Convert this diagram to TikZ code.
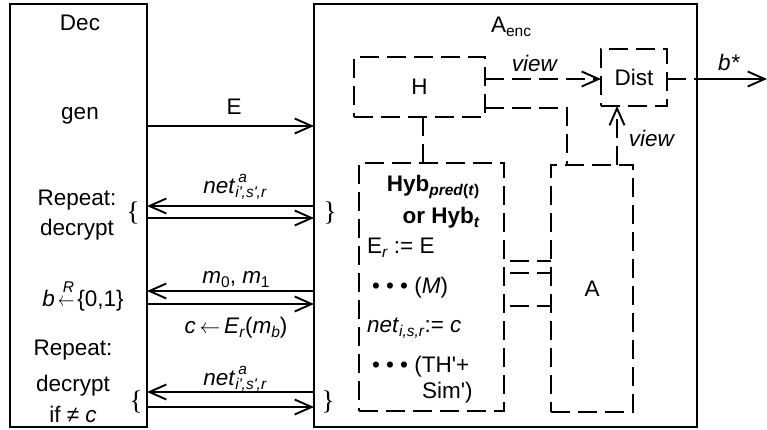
\documentclass[tikz,border=0pt]{standalone}
\usepackage{fontspec}
\setmainfont{Liberation Sans}
\newfontfamily\serf{Liberation Serif}
\usetikzlibrary{arrows.meta}
\newcommand\sub[1]{\raisebox{-4pt}{\fontsize{15.5}{16}\selectfont #1}}
\newcommand\sups[1]{\raisebox{11pt}{\fontsize{15.5}{16}\selectfont #1}}
\newcommand\qa{\textquotesingle}
\begin{document}
\begin{tikzpicture}[x=1pt,y=-1pt,
  every node/.style={font=\fontsize{22.5}{26}\selectfont, inner sep=0pt, outer sep=0pt},
  solidbox/.style={draw, line width=1.8pt},
  dashbox/.style={draw, line width=1.8pt, dash pattern=on 19pt off 8pt},
  ln/.style={line width=1.8pt},
  dln/.style={line width=1.8pt, dash pattern=on 19pt off 8pt},
  arr/.style={-{Straight Barb[length=17pt,width=15pt,line width=1.9pt]}},
  lbl/.style={anchor=base},
  lblw/.style={anchor=base west},
  brc/.style={font=\fontsize{27}{30}\selectfont\serf},
]
\useasboundingbox (0,0) rectangle (767,430);
% main boxes
\node[solidbox, minimum width=137pt, minimum height=423pt] (dec) at (78.5,215.5) {};
\node[solidbox, minimum width=383pt, minimum height=423pt] (aenc) at (505.5,215.5) {};
% inner boxes
\node[dashbox, minimum width=131pt, minimum height=60pt] (hbox) at (419.5,87) {H};
\node[dashbox, minimum width=66pt, minimum height=57pt] (dist) at (634,77.5) {Dist};
\node[dashbox, minimum width=145pt, minimum height=248pt] (hyb) at (431.5,287) {};
\node[dashbox, minimum width=82pt, minimum height=247pt] (abox) at (592,288.5) {A};
% Dec labels
\node[lbl] (declab) at (80,31) {Dec};
\node[lbl] (gen) at (80,120) {gen};
\node[lbl] (rep1) at (77,205) {Repeat:};
\node[lbl] (dcr1) at (77,235) {decrypt};
\node[lbl] (bsel) at (83,306) {\textit{b}\hspace{3pt}\rlap{\hspace{5pt}\raisebox{14pt}{\fontsize{15.5}{16}\selectfont\itshape R}}\scalebox{0.8}[1]{$\leftarrow$}\hspace{3pt}\{0,1\}};
\node[lbl] (rep2) at (73,355) {Repeat:};
\node[lbl] (dcr2) at (73,391) {decrypt};
\node[lbl] (ifc) at (73,422) {if ≠ \textit{c}};
% Aenc labels
\node[lbl] (aenclab) at (511,33) {A\sub{enc}};
\node[lbl] (view1) at (535,72) {\textit{view}};
\node[lbl] (view2) at (652,147) {\textit{view}};
\node[lbl] (bstar) at (729,71) {\textit{b*}};
% Hyb text
\node[lbl] (hyb1) at (433,192) {\textbf{Hyb}\sub{\bfseries\textit{pred}(\textit{t})}};
\node[lbl] (hyb2) at (441,223) {\textbf{or Hyb}\sub{\bfseries\textit{t}}};
\node[lblw] (hyb3) at (367,253) {E\sub{\textit{r}} := E};
\node[lblw] (hyb4) at (372,293) {\textbullet\ \textbullet\ \textbullet\ (\textit{M})};
\node[lblw] (hyb5) at (367,332) {\textit{net}\sub{\textit{i,s,r}}:= \textit{c}};
\node[lblw] (hyb6) at (372,372) {\textbullet\ \textbullet\ \textbullet\ (TH\qa+};
\node[lblw] (hyb7) at (422,398) {Sim\qa)};
% message labels
\node[lbl] (elab) at (234,115) {E};
\node[lbl] (net1) at (235,194) {\textit{net}\rlap{\hspace{3pt}\sups{\textit{a}}}\sub{\textit{i\qa,s\qa,r}}};
\node[lbl] (mlab) at (236,283) {\textit{m}\sub{0}, \textit{m}\sub{1}};
\node[lbl] (clab) at (236,333) {\textit{c}\,$\leftarrow$\,\textit{E}\sub{\textit{r}}(\textit{m}\sub{\textit{b}})};
\node[lbl] (net2) at (235,385) {\textit{net}\rlap{\hspace{3pt}\sups{\textit{a}}}\sub{\textit{i\qa,s\qa,r}}};
% braces
\node[brc] (lb1) at (133,213) {\{};
\node[brc] (rb1) at (330,213) {\}};
\node[brc] (lb2) at (136,402) {\{};
\node[brc] (rb2) at (328,402) {\}};
% row coordinates
\coordinate (rE) at (0,126);
\coordinate (r1a) at (0,206);
\coordinate (r1b) at (0,218);
\coordinate (rm) at (0,291);
\coordinate (rc) at (0,304);
\coordinate (r2a) at (0,392);
\coordinate (r2b) at (0,407);
\coordinate (rV) at (0,79);
\coordinate (rH) at (0,108);
\coordinate (c1) at (0,261);
\coordinate (c2) at (0,273);
\coordinate (c3) at (0,306);
\coordinate (kx) at (567,0);
\coordinate (ux) at (617,0);
\coordinate (hx) at (423,0);
\coordinate (bout) at (767,79);
% Dec <-> Aenc messages
\draw[ln, arr] (dec.east |- rE) -- (aenc.west |- rE);
\draw[ln, arr] (aenc.west |- r1a) -- (dec.east |- r1a);
\draw[ln, arr] (dec.east |- r1b) -- (aenc.west |- r1b);
\draw[ln, arr] (aenc.west |- rm) -- (dec.east |- rm);
\draw[ln, arr] (dec.east |- rc) -- (aenc.west |- rc);
\draw[ln, arr] (aenc.west |- r2a) -- (dec.east |- r2a);
\draw[ln, arr] (dec.east |- r2b) -- (aenc.west |- r2b);
% inside Aenc
\draw[dln, arr] (hbox.east |- rV) -- (dist.west |- rV);
\draw[dln] (dist.east |- rV) -- (aenc.east |- rV);
\draw[ln, arr] (aenc.east |- rV) -- (bout);
\draw[dln] (hbox.east |- rH) -| (kx |- abox.north);
\draw[dln, arr] (ux |- abox.north) -- (ux |- dist.south);
\draw[dln] (hx |- hbox.south) -- (hx |- hyb.north);
\draw[dln, dash phase=21pt] (hyb.east |- c1) -- (abox.west |- c1);
\draw[dln, dash phase=21pt] (hyb.east |- c2) -- (abox.west |- c2);
\draw[dln, dash phase=21pt] (hyb.east |- c3) -- (abox.west |- c3);
\end{tikzpicture}
\end{document}
